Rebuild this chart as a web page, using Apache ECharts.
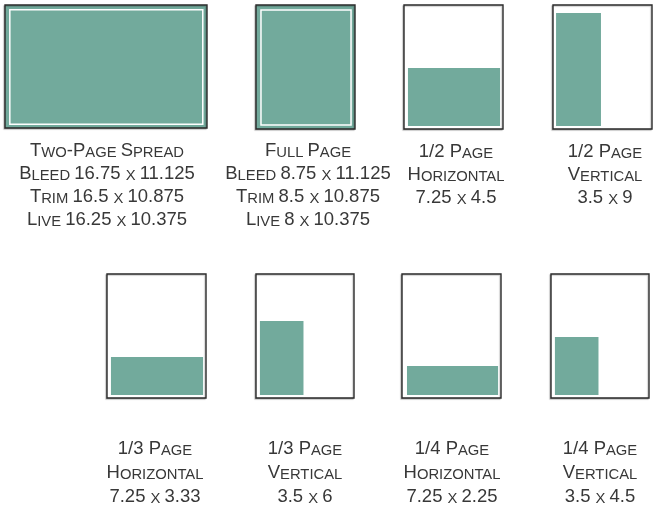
<!DOCTYPE html>
<html><head><meta charset="utf-8">
<script src="https://cdn.jsdelivr.net/npm/echarts@6/dist/echarts.min.js"></script>
<style>html,body{margin:0;padding:0;background:#fff}#c{width:653px;height:510px}</style>
</head><body><div id="c"></div><script>
// ---- data (inches / diagram units) ----
const labelLines = [
  ['Two-Page Spread', 'Bleed 16.75 x 11.125', 'Trim 16.5 x 10.875', 'Live 16.25 x 10.375'],
  ['Full Page', 'Bleed 8.75 x 11.125', 'Trim 8.5 x 10.875', 'Live 8 x 10.375'],
  ['1/2 Page', 'Horizontal', '7.25 x 4.5'],
  ['1/2 Page', 'Vertical', '3.5 x 9'],
  ['1/3 Page', 'Horizontal', '7.25 x 3.33'],
  ['1/3 Page', 'Vertical', '3.5 x 6'],
  ['1/4 Page', 'Horizontal', '7.25 x 2.25'],
  ['1/4 Page', 'Vertical', '3.5 x 4.5']
];
const pageWidths = [16.75, 8.75, 8.75, 8.75, 8.75, 8.75, 8.75, 8.75];
const pageHeights = [11.125, 11.125, 11.125, 11.125, 11.125, 11.125, 11.125, 11.125];
const fullBleed = [true, true, false, false, false, false, false, false];
const adX0 = [0.40, 0.44, 0.35, 0.27, 0.35, 0.35, 0.44, 0.35];
const adY0 = [0.35, 0.36, 0.27, 0.27, 0.27, 0.27, 0.27, 0.27];
const adX1 = [16.40, 8.40, 8.49, 4.24, 8.49, 4.24, 8.49, 4.24];
const adY1 = [10.70, 10.67, 5.47, 10.41, 3.68, 6.91, 2.87, 5.47];

// ---- layout & style ----
const grids = [
  {left: 5, top: 5, width: 202, height: 123},
  {left: 256, top: 5, width: 99, height: 124},
  {left: 404, top: 5, width: 99, height: 124},
  {left: 553, top: 5, width: 99, height: 124},
  {left: 107, top: 274, width: 99, height: 124},
  {left: 256, top: 274, width: 98, height: 124},
  {left: 402, top: 274, width: 99, height: 124},
  {left: 551, top: 274, width: 98, height: 124}
];
const labelPos = [
  [107, 148.3, 23.3], [308, 148.3, 23.3], [456, 149.3, 23.3], [605, 149.3, 23.3],
  [155, 446.5, 24], [305, 446.5, 24], [452, 446.5, 24], [600, 446.5, 24]
];
const TEAL = '#72aa9c';
const INK = '#383838';
const FONT = 'Liberation Sans';
const BIG = 18.5, SMALL = 14.8;

function smallCaps(line) {
  let out = '', cur = null, buf = '';
  for (const ch of line) {
    let t;
    if (ch >= 'a' && ch <= 'z') t = 's';
    else if (ch === ' ') t = cur || 'b';
    else t = 'b';
    if (t !== cur && buf) { out += '{' + cur + '|' + buf + '}'; buf = ''; }
    cur = t;
    buf += (t === 's') ? ch.toUpperCase() : ch;
  }
  if (buf) out += '{' + cur + '|' + buf + '}';
  return out;
}

const xAxis = [], yAxis = [], series = [], graphic = [];
grids.forEach((g, i) => {
  xAxis.push({gridIndex: i, type: 'value', min: 0, max: pageWidths[i], show: false});
  yAxis.push({gridIndex: i, type: 'value', min: 0, max: pageHeights[i], show: false});
  series.push({
    type: 'custom', xAxisIndex: i, yAxisIndex: i, clip: false, silent: true,
    data: [[0, 0, pageWidths[i], pageHeights[i]]],
    renderItem: (params, api) => {
      const p0 = api.coord([api.value(0), api.value(3)]);
      const p1 = api.coord([api.value(2), api.value(1)]);
      return {type: 'rect', shape: {x: p0[0], y: p0[1], width: p1[0] - p0[0], height: p1[1] - p0[1]},
        style: {fill: fullBleed[i] ? TEAL : '#fff', stroke: '#2a2a2a', lineWidth: 1.4,
          shadowColor: 'rgba(0,0,0,0.22)', shadowBlur: 1, shadowOffsetX: -1, shadowOffsetY: 1}};
    }
  });
  series.push({
    type: 'custom', xAxisIndex: i, yAxisIndex: i, clip: false, silent: true,
    data: [[adX0[i], adY0[i], adX1[i], adY1[i]]],
    renderItem: (params, api) => {
      const p0 = api.coord([api.value(0), api.value(3)]);
      const p1 = api.coord([api.value(2), api.value(1)]);
      const shape = {x: p0[0], y: p0[1], width: p1[0] - p0[0], height: p1[1] - p0[1]};
      return fullBleed[i]
        ? {type: 'rect', shape, style: {fill: 'none', stroke: '#ffffff', lineWidth: 1.5}}
        : {type: 'rect', shape, style: {fill: TEAL}};
    }
  });
  const [cx, cy, lh] = labelPos[i];
  const sh = lh - 2 * 0.33 * (BIG - SMALL);
  graphic.push({
    type: 'text', x: cx, y: cy - lh / 2, silent: true,
    style: {
      text: labelLines[i].map(smallCaps).join('\n'),
      align: 'center', verticalAlign: 'top', textAlign: 'center', textVerticalAlign: 'top',
      fill: INK, fontFamily: FONT, fontSize: BIG,
      rich: {
        b: {fontSize: BIG, fontFamily: FONT, fill: INK, color: INK, lineHeight: lh, verticalAlign: 'bottom'},
        s: {fontSize: SMALL, fontFamily: FONT, fill: INK, color: INK, lineHeight: sh, verticalAlign: 'bottom'}
      }
    }
  });
});

const chart = echarts.init(document.getElementById('c'), null, {renderer: 'canvas'});
chart.setOption({
  animation: false,
  backgroundColor: '#ffffff',
  grid: grids.map(g => Object.assign({containLabel: false}, g)),
  xAxis, yAxis, series, graphic
});
</script></body></html>
